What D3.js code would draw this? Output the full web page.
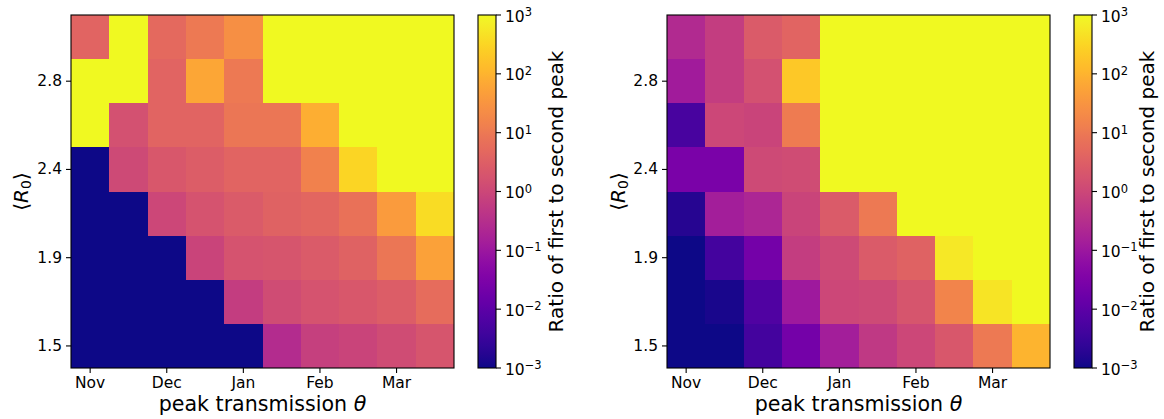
<!DOCTYPE html>
<html><head><meta charset="utf-8">
<script src="https://cdn.jsdelivr.net/npm/d3@7"></script>
<style>
body{margin:0;background:#fff;}
svg text{font-family:"DejaVu Sans",sans-serif;fill:#000;}
</style>
</head><body><svg id="c" width="1164" height="419"></svg>
<script>
// ---- data ----
const thetaCats = [0,1,2,3,4,5,6,7,8,9];          // peak-transmission columns (half-month steps)
const monthTicks = [0,2,4,6,8];
const monthLabels = ["Nov","Dec","Jan","Feb","Mar"];
const r0Cats = [1.5,1.7,1.9,2.1,2.4,2.6,2.8,3.0]; // <R0> rows, bottom to top
const r0Ticks = [1.5,1.9,2.4,2.8];
const cbExps = [-3,-2,-1,0,1,2,3];
const cbLabel = "Ratio of first to second peak";
// log10(ratio of first to second peak); rows from top (highest R0) to bottom
const logRatioLeft = [
  [0.6, 3, 0.7, 1.0, 1.4, 3, 3, 3, 3, 3],
  [3, 3, 0.6, 1.8, 1.0, 3, 3, 3, 3, 3],
  [3, 0.2, 0.6, 0.6, 0.95, 0.95, 1.9, 3, 3, 3],
  [-3, 0.05, 0.35, 0.45, 0.6, 0.6, 1.15, 2.5, 3, 3],
  [-3, -3, 0.0, 0.25, 0.4, 0.55, 0.65, 0.85, 1.6, 2.6],
  [-3, -3, -3, -0.05, 0.25, 0.3, 0.4, 0.55, 0.95, 1.7],
  [-3, -3, -3, -3, -0.2, 0.1, 0.25, 0.35, 0.45, 0.75],
  [-3, -3, -3, -3, -3, -0.55, -0.15, -0.05, 0.1, 0.3]
];
const logRatioRight = [
  [-0.6, -0.2, 0.4, 0.6, 3, 3, 3, 3, 3, 3],
  [-0.9, -0.2, 0.2, 2.3, 3, 3, 3, 3, 3, 3],
  [-2.3, 0.0, -0.05, 1.05, 3, 3, 3, 3, 3, 3],
  [-1.55, -1.55, 0.05, 0.1, 3, 3, 3, 3, 3, 3],
  [-2.75, -0.85, -0.7, -0.05, 0.4, 1.0, 3, 3, 3, 3],
  [-3, -2.35, -1.65, -0.2, 0.05, 0.4, 0.55, 2.75, 3, 3],
  [-3, -2.9, -2.2, -0.95, 0.0, 0.05, 0.3, 1.2, 2.7, 3],
  [-3, -3, -2.35, -1.65, -0.85, -0.3, 0.0, 0.35, 1.0, 2.0]
];

// ---- drawing ----
const svg = d3.select("#c");
const color = d3.scaleSequential(d3.interpolatePlasma).domain([-3,3]).clamp(true);
const plotTop = 15, plotBottom = 368;

// gradient
const grad = svg.append("defs").append("linearGradient").attr("id","plasma")
  .attr("x1","0").attr("y1","1").attr("x2","0").attr("y2","0");
d3.range(0,1.0001,0.02).forEach(t=>grad.append("stop").attr("offset",t).attr("stop-color",d3.interpolatePlasma(t)));

function panel(data, x0, x1, cbx, ylabX, cbLabX){
  const g = svg.append("g");
  const x = d3.scaleBand().domain(thetaCats).range([x0,x1]);
  const rowsTopDown = r0Cats.slice().reverse();
  const y = d3.scaleBand().domain(rowsTopDown).range([plotTop,plotBottom]);
  data.forEach((row,i)=>row.forEach((v,j)=>{
    const xa = Math.round(x(thetaCats[j])), xb = Math.round(x(thetaCats[j]) + x.bandwidth());
    const ya = Math.round(y(rowsTopDown[i])), yb = Math.round(y(rowsTopDown[i]) + y.bandwidth());
    g.append("rect").attr("x",xa).attr("y",ya)
      .attr("width",xb-xa).attr("height",yb-ya)
      .attr("fill",color(v)).attr("shape-rendering","crispEdges");
  }));
  g.append("rect").attr("x",x0).attr("y",plotTop).attr("width",x1-x0).attr("height",plotBottom-plotTop)
    .attr("fill","none").attr("stroke","#000").attr("stroke-width",1.1);
  const ax = g.append("g").attr("transform",`translate(0,${plotBottom})`)
    .call(d3.axisBottom(x).tickValues(monthTicks).tickSize(5).tickPadding(4)
      .tickFormat(d=>monthLabels[monthTicks.indexOf(d)]));
  const ay = g.append("g").attr("transform",`translate(${x0},0)`)
    .call(d3.axisLeft(y).tickValues(r0Ticks).tickSize(5).tickPadding(4).tickFormat(d3.format(".1f")));
  [ax,ay].forEach(a=>{a.select(".domain").remove();
    a.selectAll("text").attr("font-size","15.5px").attr("font-family","DejaVu Sans");
    a.selectAll("line").attr("stroke","#000").attr("stroke-width",1.1);});
  // x label
  const xl = g.append("text").attr("x",(x0+x1)/2).attr("y",411).attr("text-anchor","middle")
    .attr("font-size","20.6px");
  xl.append("tspan").text("peak transmission ");
  xl.append("tspan").attr("font-style","italic").text("θ");
  // y label
  const yl = g.append("text").attr("transform",`translate(${ylabX},191.5) rotate(-90)`)
    .attr("text-anchor","middle").attr("font-size","20px");
  yl.append("tspan").text("⟨");
  yl.append("tspan").attr("font-style","italic").text("R");
  yl.append("tspan").attr("font-size","14px").attr("dy","3").text("0");
  yl.append("tspan").attr("dy","-3").text("⟩");
  // colorbar
  const cbw = 18;
  const cy = d3.scaleLinear().domain([-3,3]).range([plotBottom,plotTop]);
  g.append("rect").attr("x",cbx).attr("y",plotTop).attr("width",cbw).attr("height",plotBottom-plotTop)
    .attr("fill","url(#plasma)").attr("stroke","#000").attr("stroke-width",1.1);
  cbExps.forEach(e=>{
    g.append("line").attr("x1",cbx+cbw).attr("x2",cbx+cbw+5).attr("y1",cy(e)).attr("y2",cy(e))
      .attr("stroke","#000").attr("stroke-width",1.1);
    const t = g.append("text").attr("x",cbx+cbw+9).attr("y",cy(e)+6.5)
      .attr("font-size","15.5px");
    t.append("tspan").text("10");
    t.append("tspan").attr("font-size","11.5px").attr("dy","-5.5")
      .text(e<0 ? "\u2212"+(-e) : String(e));
  });
  g.append("text").attr("transform",`translate(${cbLabX},191.5) rotate(-90)`)
    .attr("text-anchor","middle").attr("font-size","20px").text(cbLabel);
}
panel(logRatioLeft, 71, 454, 478, 28, 563);
panel(logRatioRight, 667, 1050, 1074, 625, 1154);
</script></body></html>
